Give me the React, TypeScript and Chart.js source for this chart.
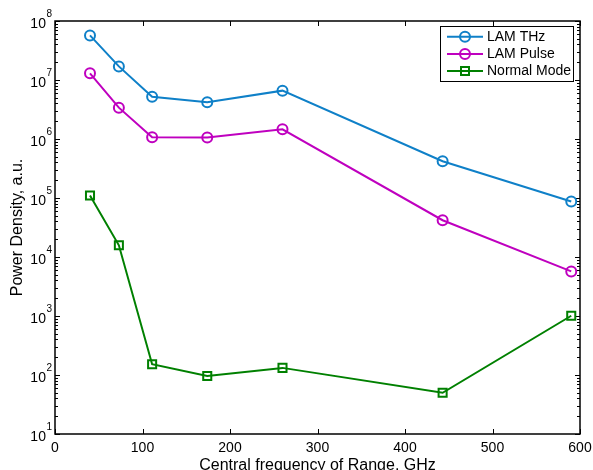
import React, { useEffect, useRef } from "react";
import { Chart, registerables } from "chart.js";

Chart.register(...registerables);

const freqs = [40, 73, 111, 174, 260, 443, 590];
const lamTHz = [5.7e7, 1.7e7, 5.2e6, 4.2e6, 6.6e6, 4.2e5, 8.7e4];
const lamPulse = [1.3e7, 3.4e6, 1.07e6, 1.06e6, 1.46e6, 4.2e4, 5.7e3];
const normalMode = [1.1e5, 1.58e4, 152, 96, 132, 50, 1010];
const seriesNames = ["LAM THz", "LAM Pulse", "Normal Mode"];
const seriesColors = ["#0f80c8", "#bf00bf", "#008000"];
const xTicks = [0, 100, 200, 300, 400, 500, 600];
const yExponents = [1, 2, 3, 4, 5, 6, 7, 8];
const xTitle = "Central frequency of Range, GHz";
const yTitle = "Power Density, a.u.";

const FONT = "'Liberation Sans', Arial, Helvetica, sans-serif";

const axesPlugin = {
  id: "matlabAxes",
  beforeDatasetsDraw(chart: any) {
    const { ctx, chartArea } = chart;
    const { left, right, top, bottom } = chartArea;
    const xs = chart.scales.x;
    const ys = chart.scales.y;
    ctx.save();
    ctx.strokeStyle = "#000";
    ctx.lineWidth = 1.5;
    ctx.strokeRect(left, top, right - left, bottom - top);
    ctx.lineWidth = 1;
    // x ticks
    ctx.fillStyle = "#000";
    ctx.font = `14px ${FONT}`;
    ctx.textAlign = "center";
    ctx.textBaseline = "alphabetic";
    xTicks.forEach((v) => {
      const px = Math.round(xs.getPixelForValue(v)) + 0.5;
      ctx.beginPath();
      ctx.moveTo(px, bottom);
      ctx.lineTo(px, bottom - 5);
      ctx.moveTo(px, top);
      ctx.lineTo(px, top + 5);
      ctx.stroke();
      ctx.fillText(String(v), xs.getPixelForValue(v), 452);
    });
    // y ticks
    yExponents.forEach((e) => {
      const py = Math.round(ys.getPixelForValue(Math.pow(10, e))) + 0.5;
      ctx.beginPath();
      ctx.moveTo(left, py);
      ctx.lineTo(left + 5, py);
      ctx.moveTo(right, py);
      ctx.lineTo(right - 5, py);
      ctx.stroke();
      if (e < 8) {
        for (let m = 2; m <= 9; m++) {
          const my = Math.round(ys.getPixelForValue(m * Math.pow(10, e))) + 0.5;
          ctx.beginPath();
          ctx.moveTo(left, my);
          ctx.lineTo(left + 3, my);
          ctx.moveTo(right, my);
          ctx.lineTo(right - 3, my);
          ctx.stroke();
        }
      }
      const cy = ys.getPixelForValue(Math.pow(10, e));
      ctx.font = `10px ${FONT}`;
      ctx.textAlign = "left";
      const supW = ctx.measureText(String(e)).width;
      const supX = left - 3 - supW;
      ctx.fillText(String(e), supX, cy - 4);
      ctx.font = `14px ${FONT}`;
      ctx.textAlign = "right";
      ctx.fillText("10", supX - 0.5, cy + 7);
    });
    // titles
    ctx.font = `16px ${FONT}`;
    ctx.textAlign = "center";
    ctx.textBaseline = "alphabetic";
    ctx.fillText(xTitle, (left + right) / 2, 469.5);
    ctx.save();
    ctx.translate(22, (top + bottom) / 2);
    ctx.rotate(-Math.PI / 2);
    ctx.fillText(yTitle, 0, 0);
    ctx.restore();
    ctx.restore();
  },
  afterDraw(chart: any) {
    const { ctx } = chart;
    ctx.save();
    const bx = 440.5, by = 26.5, bw = 133, bh = 55;
    ctx.fillStyle = "#fff";
    ctx.fillRect(bx, by, bw, bh);
    ctx.strokeStyle = "#000";
    ctx.lineWidth = 1;
    ctx.strokeRect(bx, by, bw, bh);
    const rows = [36.7, 54, 71];
    seriesNames.forEach((name, i) => {
      const y = rows[i];
      ctx.strokeStyle = seriesColors[i];
      ctx.lineWidth = 2;
      ctx.beginPath();
      ctx.moveTo(447, y);
      ctx.lineTo(483, y);
      ctx.stroke();
      ctx.beginPath();
      if (i < 2) {
        ctx.arc(465, y, 5, 0, Math.PI * 2);
      } else {
        ctx.rect(461, y - 4, 8, 8);
      }
      ctx.stroke();
      ctx.fillStyle = "#000";
      ctx.font = `14px ${FONT}`;
      ctx.textAlign = "left";
      ctx.textBaseline = "middle";
      ctx.fillText(name, 487, y + 0.5);
    });
    ctx.restore();
  },
};

export default function App() {
  const canvasRef = useRef<HTMLCanvasElement | null>(null);
  useEffect(() => {
    document.body.style.margin = "0";
    const canvas = canvasRef.current;
    if (!canvas) return;
    const mk = (vals: number[]) => freqs.map((x, i) => ({ x, y: vals[i] }));
    const allSeries = [lamTHz, lamPulse, normalMode];
    const chart = new Chart(canvas, {
      type: "line",
      data: {
        datasets: allSeries.map((vals, i) => ({
          label: seriesNames[i],
          data: mk(vals),
          borderColor: seriesColors[i],
          backgroundColor: "transparent",
          pointBackgroundColor: "transparent",
          pointBorderColor: seriesColors[i],
          pointBorderWidth: 2,
          pointRadius: i < 2 ? 5 : 5.7,
          pointStyle: i < 2 ? "circle" : "rect",
          borderWidth: 2,
          tension: 0,
          fill: false,
        })),
      },
      options: {
        animation: false,
        responsive: false,
        devicePixelRatio: 1,
        layout: { padding: { left: 55, top: 21, right: 13, bottom: 36 } },
        plugins: { legend: { display: false }, tooltip: { enabled: false } },
        scales: {
          x: { type: "linear", min: 0, max: 600, display: false },
          y: { type: "logarithmic", min: 10, max: 1e8, display: false },
        },
      },
      plugins: [axesPlugin],
    } as any);
    return () => chart.destroy();
  }, []);
  return (
    <div style={{ position: "absolute", left: 0, top: 0, width: 593, height: 470, background: "#fff" }}>
      <canvas ref={canvasRef} width={593} height={470} />
    </div>
  );
}
